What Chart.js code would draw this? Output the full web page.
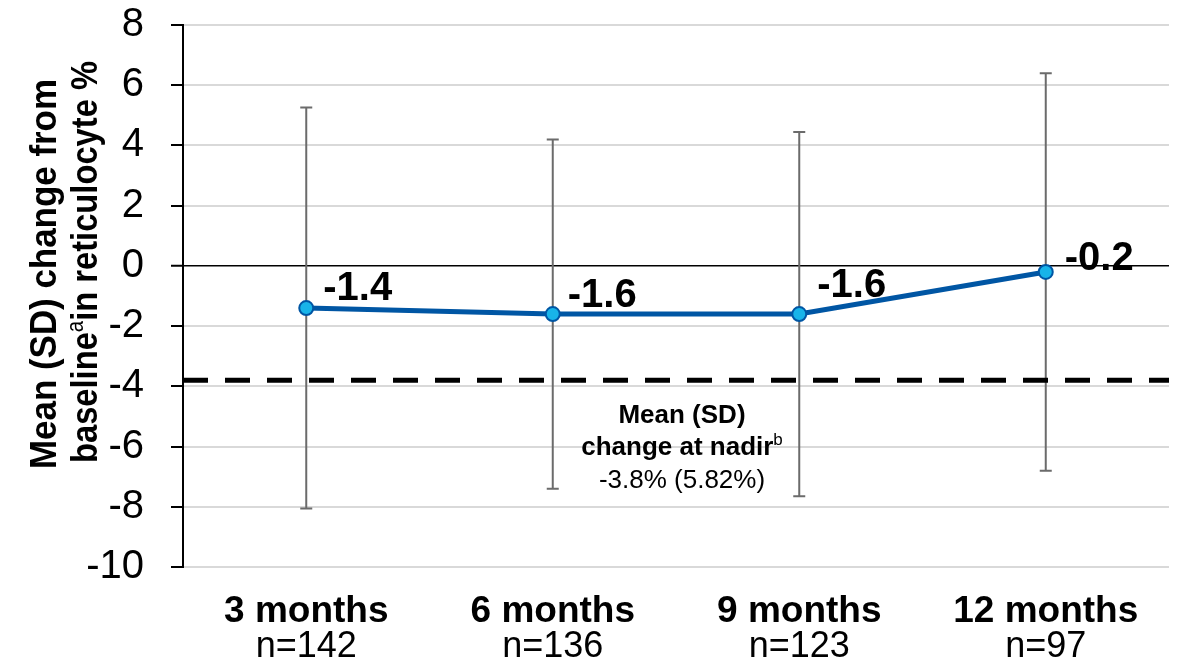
<!DOCTYPE html>
<html>
<head>
<meta charset="utf-8">
<script src="https://cdn.jsdelivr.net/npm/chart.js@4.4.1/dist/chart.umd.min.js"></script>
<style>
  html, body { margin: 0; padding: 0; background: #ffffff; }
  #wrap { width: 1178px; height: 666px; position: relative; }
</style>
</head>
<body>
<div id="wrap"><canvas id="chart"></canvas></div>
<script>
// Time points after treatment start and the number of patients at each
const categories = ['3 months', '6 months', '9 months', '12 months'];
const sampleSizes = ['n=142', 'n=136', 'n=123', 'n=97'];

// Mean change from baseline in reticulocyte % and its standard deviation
const meanChange = [-1.4, -1.6, -1.6, -0.2];
const sdChange = [6.66, 5.8, 6.05, 6.6];

// Mean (SD) change at nadir
const nadirMean = -3.8;
const nadirSD = 5.82;

// Value axis range and step
const yMin = -10;
const yMax = 8;
const yStep = 2;

const FONT = '"Liberation Sans", Arial, Helvetica, sans-serif';

// Offsets (px) of each value label from its point: [dx, dy] to left/baseline
const labelOffsets = [[17, -8], [15, -7], [18, -17], [19, -2]];

// Draws a sequence of text runs (with optional superscripts) centred or
// left-aligned at x; squeezes horizontally when maxWidth is given
function drawRuns(ctx, runs, x, y, align, maxWidth) {
  let total = 0;
  runs.forEach(r => { ctx.font = r.font; total += ctx.measureText(r.text).width; });
  const k = maxWidth && total > maxWidth ? maxWidth / total : 1;
  ctx.save();
  ctx.translate(x, y);
  ctx.scale(k, 1);
  let cx = align === 'center' ? -total / 2 : 0;
  ctx.textAlign = 'left';
  ctx.textBaseline = 'alphabetic';
  runs.forEach(r => {
    ctx.font = r.font;
    ctx.fillText(r.text, cx, r.rise || 0);
    cx += ctx.measureText(r.text).width;
  });
  ctx.restore();
}

// SD whiskers behind the line, plus the dashed nadir reference line
const errorBarPlugin = {
  id: 'errorBars',
  beforeDatasetsDraw(chart) {
    const { ctx, chartArea } = chart;
    const xs = chart.scales.x, ys = chart.scales.y;
    ctx.save();
    ctx.strokeStyle = '#6b6b6b';
    ctx.lineWidth = 2;
    meanChange.forEach((m, i) => {
      const x = xs.getPixelForValue(i);
      const top = ys.getPixelForValue(m + sdChange[i]);
      const bot = ys.getPixelForValue(m - sdChange[i]);
      ctx.beginPath();
      ctx.moveTo(x, top); ctx.lineTo(x, bot);
      ctx.moveTo(x - 6, top); ctx.lineTo(x + 6, top);
      ctx.moveTo(x - 6, bot); ctx.lineTo(x + 6, bot);
      ctx.stroke();
    });
    // nadir reference line
    const yn = ys.getPixelForValue(nadirMean);
    ctx.strokeStyle = '#000000';
    ctx.lineWidth = 5;
    ctx.setLineDash([25, 17]);
    ctx.beginPath();
    ctx.moveTo(chartArea.left, yn);
    ctx.lineTo(chartArea.right, yn);
    ctx.stroke();
    ctx.restore();
  }
};

// Value labels next to each point
const valueLabelPlugin = {
  id: 'valueLabels',
  afterDatasetsDraw(chart) {
    const { ctx } = chart;
    const meta = chart.getDatasetMeta(0);
    ctx.save();
    ctx.fillStyle = '#000000';
    ctx.font = 'bold 40px ' + FONT;
    ctx.textAlign = 'left';
    ctx.textBaseline = 'alphabetic';
    meta.data.forEach((pt, i) => {
      const [dx, dy] = labelOffsets[i];
      ctx.fillText(meanChange[i].toFixed(1), pt.x + dx, pt.y + dy);
    });
    ctx.restore();
  }
};

// Two-line category labels, axis title and the nadir note
const textPlugin = {
  id: 'texts',
  afterDraw(chart) {
    const { ctx, chartArea } = chart;
    const xs = chart.scales.x, ys = chart.scales.y;
    ctx.save();
    ctx.fillStyle = '#000000';

    // category labels
    ctx.textAlign = 'center';
    ctx.textBaseline = 'alphabetic';
    categories.forEach((c, i) => {
      const x = xs.getPixelForValue(i);
      ctx.font = 'bold 37px ' + FONT;
      ctx.fillText(c, x, chartArea.bottom + 55);
      ctx.font = '36px ' + FONT;
      ctx.fillText(sampleSizes[i], x, chartArea.bottom + 90);
    });

    // y-axis title (rotated)
    const bold = 'bold 37px ' + FONT;
    ctx.save();
    ctx.translate(56, 274);
    ctx.rotate(-Math.PI / 2);
    drawRuns(ctx, [{ text: 'Mean (SD) change from', font: bold }], 0, 0, 'center', 390);
    ctx.restore();
    ctx.save();
    ctx.translate(97, 262);
    ctx.rotate(-Math.PI / 2);
    drawRuns(ctx, [
      { text: 'baseline', font: bold },
      { text: 'a', font: '23px ' + FONT, rise: -14 },
      { text: 'in reticulocyte %', font: bold }
    ], 0, 0, 'center', 402);
    ctx.restore();

    // nadir note
    const cx = (xs.getPixelForValue(1) + xs.getPixelForValue(2)) / 2 + 6;
    const yn = ys.getPixelForValue(nadirMean);
    drawRuns(ctx, [{ text: 'Mean (SD)', font: 'bold 26px ' + FONT }], cx, yn + 43, 'center');
    drawRuns(ctx, [
      { text: 'change at nadir', font: 'bold 26px ' + FONT },
      { text: 'b', font: '17px ' + FONT, rise: -10 }
    ], cx, yn + 75, 'center');
    drawRuns(ctx, [{
      text: nadirMean.toFixed(1) + '% (' + nadirSD.toFixed(2) + '%)',
      font: '26px ' + FONT
    }], cx, yn + 108, 'center');

    ctx.restore();
  }
};

new Chart(document.getElementById('chart'), {
  type: 'line',
  data: {
    labels: categories,
    datasets: [{
      data: meanChange,
      borderColor: '#0056a4',
      borderWidth: 5,
      pointRadius: 7,
      pointHoverRadius: 7,
      pointBackgroundColor: '#18b4e9',
      pointBorderColor: '#0056a4',
      pointBorderWidth: 2,
      tension: 0,
      clip: false
    }]
  },
  options: {
    responsive: true,
    maintainAspectRatio: false,
    animation: false,
    events: [],
    layout: { padding: { top: 25, right: 8, bottom: 0, left: 0 } },
    plugins: {
      legend: { display: false },
      tooltip: { enabled: false },
      title: { display: false }
    },
    scales: {
      x: {
        type: 'category',
        offset: true,
        grid: { display: false },
        border: { display: false },
        ticks: { display: false },
        afterFit(scale) { scale.height = 99; }
      },
      y: {
        min: yMin,
        max: yMax,
        ticks: {
          stepSize: yStep,
          color: '#000000',
          padding: 27,
          font: { family: FONT, size: 40 }
        },
        grid: {
          color: ctx => (ctx.tick && ctx.tick.value === 0) ? '#000000' : '#d9d9d9',
          lineWidth: ctx => (ctx.tick && ctx.tick.value === 0) ? 1.5 : 2,
          drawTicks: true,
          tickLength: 12,
          tickColor: '#000000',
          tickWidth: 2
        },
        border: { display: true, color: '#000000', width: 2 },
        afterFit(scale) {
          scale.width = 183;
          scale.paddingTop = 0;
          scale.paddingBottom = 0;
        }
      }
    }
  },
  plugins: [errorBarPlugin, valueLabelPlugin, textPlugin]
});
</script>
</body>
</html>
